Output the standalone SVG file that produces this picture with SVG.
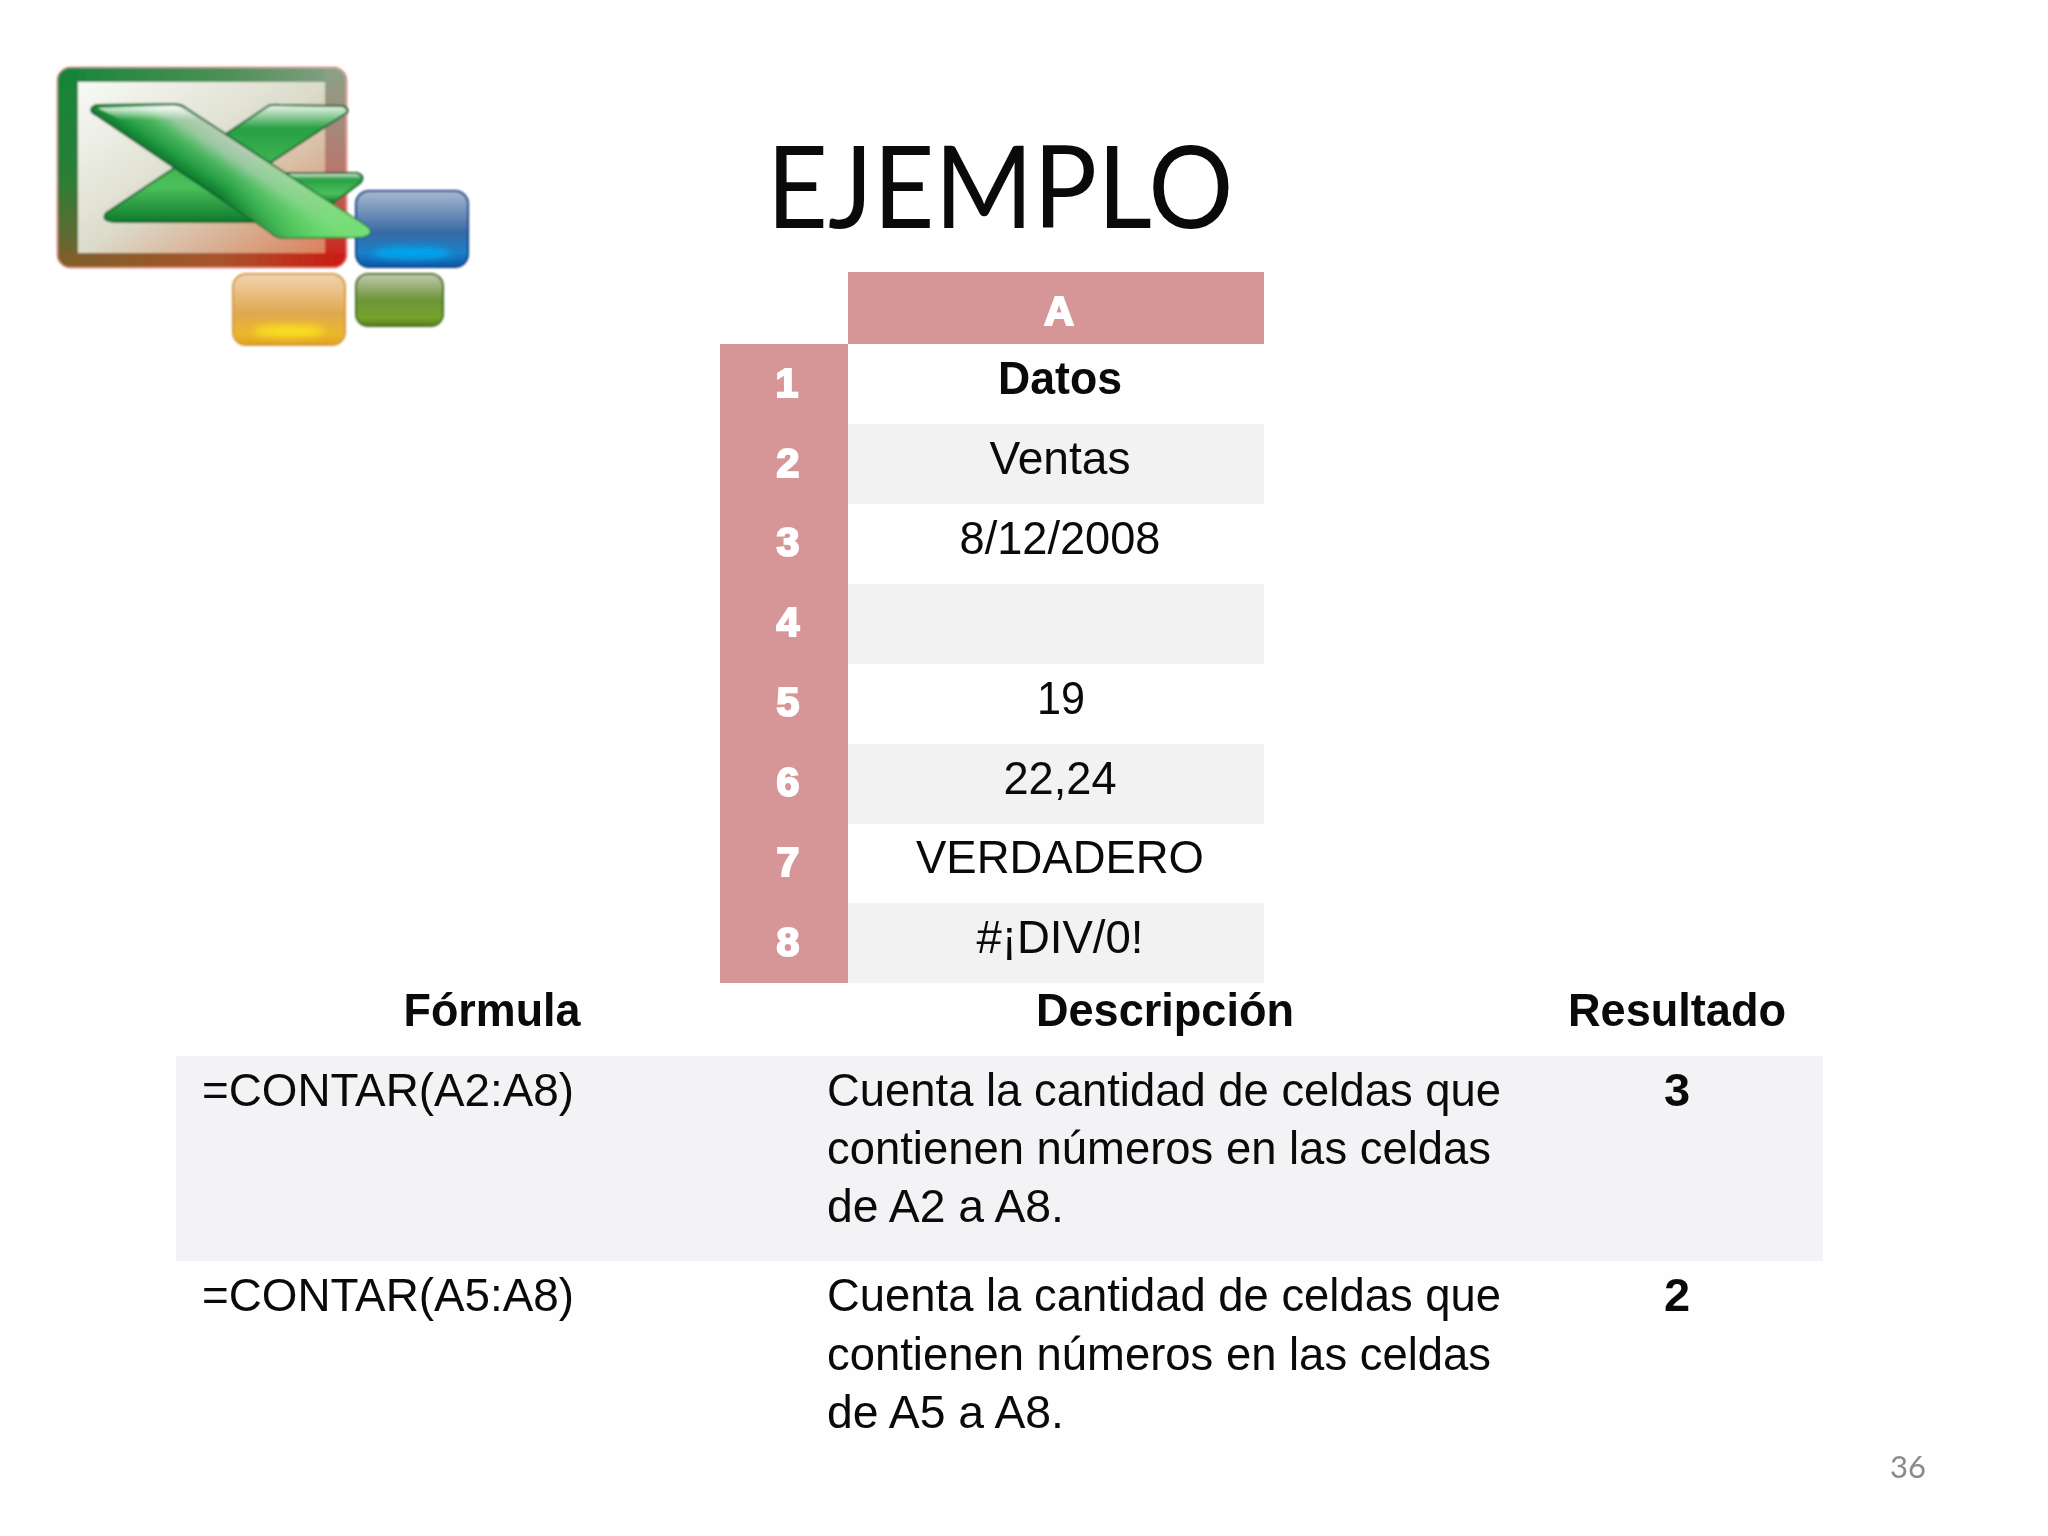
<svg xmlns="http://www.w3.org/2000/svg" width="2048" height="1536" viewBox="0 0 2048 1536">
<style>
.t{font-family:"Liberation Sans",Arial,sans-serif;font-size:47px;fill:#0a0a0a}
.b{font-weight:bold}
.m{text-anchor:middle}
.n{font-family:"Liberation Sans",Arial,sans-serif;font-size:41px;font-weight:bold;fill:#fff;stroke:#fff;stroke-width:2.2px;text-anchor:middle}
.hd{fill:#d69596}
.alt{fill:#f2f2f2}
</style>
<defs>
<clipPath id="fc"><rect x="58" y="68" width="288" height="199" rx="13"/></clipPath>
<linearGradient id="fT" x1="0" y1="0" x2="1" y2="0"><stop offset="0" stop-color="#16853a"/><stop offset=".6" stop-color="#4f9058"/><stop offset="1" stop-color="#8aa288"/></linearGradient>
<linearGradient id="fL" x1="0" y1="0" x2="0" y2="1"><stop offset="0" stop-color="#16853a"/><stop offset=".55" stop-color="#2a7f36"/><stop offset="1" stop-color="#7d5f2c"/></linearGradient>
<linearGradient id="fR" x1="0" y1="0" x2="0" y2="1"><stop offset="0" stop-color="#8aa288"/><stop offset=".5" stop-color="#b87870"/><stop offset="1" stop-color="#cc1a14"/></linearGradient>
<linearGradient id="fB" x1="0" y1="0" x2="1" y2="0"><stop offset="0" stop-color="#7d5f2c"/><stop offset=".55" stop-color="#a8552c"/><stop offset="1" stop-color="#cc1a14"/></linearGradient>
<linearGradient id="inner" x1="0" y1="0" x2="1" y2="1"><stop offset="0" stop-color="#f8faf6"/><stop offset=".5" stop-color="#dcdccc"/><stop offset=".8" stop-color="#d8a888"/><stop offset="1" stop-color="#dd7f5c"/></linearGradient>
<linearGradient id="blue" x1="0" y1="0" x2="0" y2="1"><stop offset="0" stop-color="#a8b8d0"/><stop offset=".55" stop-color="#386aa4"/><stop offset=".82" stop-color="#1a80c8"/><stop offset="1" stop-color="#0a58a8"/></linearGradient>
<linearGradient id="orange" x1="0" y1="0" x2="0" y2="1"><stop offset="0" stop-color="#f0d4b0"/><stop offset=".55" stop-color="#e0a850"/><stop offset=".85" stop-color="#eab82c"/><stop offset="1" stop-color="#e0a020"/></linearGradient>
<linearGradient id="olive" x1="0" y1="0" x2="0" y2="1"><stop offset="0" stop-color="#c0ccb0"/><stop offset=".5" stop-color="#6e9438"/><stop offset=".85" stop-color="#74a42c"/><stop offset="1" stop-color="#557d20"/></linearGradient>
<linearGradient id="xg" x1="0" y1="0" x2="0" y2="1"><stop offset="0" stop-color="#f2f7f0"/><stop offset=".2" stop-color="#28a044"/><stop offset=".7" stop-color="#4cc05c"/><stop offset="1" stop-color="#0f7a2c"/></linearGradient>
<linearGradient id="xm" gradientUnits="userSpaceOnUse" x1="181" y1="171" x2="211" y2="126"><stop offset="0" stop-color="#0f7a30"/><stop offset=".18" stop-color="#1f9a3e"/><stop offset=".5" stop-color="#50b862"/><stop offset=".72" stop-color="#98c8a0"/><stop offset="1" stop-color="#b4ceb4"/></linearGradient>
<linearGradient id="xb" gradientUnits="userSpaceOnUse" x1="230" y1="180" x2="340" y2="240"><stop offset="0" stop-color="#70e070" stop-opacity="0"/><stop offset="1" stop-color="#70e070" stop-opacity=".9"/></linearGradient>
<linearGradient id="xt" x1="0" y1="0" x2="0" y2="1"><stop offset="0" stop-color="#ffffff"/><stop offset="1" stop-color="#ffffff" stop-opacity="0"/></linearGradient>
<filter id="soft" x="-10%" y="-10%" width="120%" height="120%"><feGaussianBlur stdDeviation="0.9"/></filter>
<filter id="sh" x="-30%" y="-60%" width="160%" height="220%"><feGaussianBlur stdDeviation="3.5"/></filter>
</defs>
<rect width="2048" height="1536" fill="#fff"/>
<rect x="50" y="360" width="1950" height="1176" fill="#fefefe"/>

<g id="logo">
<rect x="58" y="68" width="288" height="199" rx="13" fill="none" stroke="#f4a0a0" stroke-width="3" filter="url(#soft)"/>
<g filter="url(#soft)">
<g clip-path="url(#fc)">
<rect x="58" y="68" width="288" height="199" fill="#6a8a50"/>
<rect x="58" y="68" width="288" height="14" fill="url(#fT)"/>
<rect x="58" y="68" width="20" height="199" fill="url(#fL)"/>
<rect x="325" y="68" width="21" height="199" fill="url(#fR)"/>
<rect x="58" y="253" width="288" height="14" fill="url(#fB)"/>
</g>
<rect x="78" y="82" width="247" height="171" fill="url(#inner)"/>
<rect x="356" y="191" width="112" height="76" rx="13" fill="url(#blue)" stroke="#0c4088" stroke-width="2"/>
<ellipse cx="412" cy="253" rx="40" ry="6" fill="#00a8f0" filter="url(#sh)"/>
<rect x="233" y="274" width="112" height="71" rx="13" fill="url(#orange)" stroke="#d89a40" stroke-width="2"/>
<ellipse cx="289" cy="331" rx="36" ry="6" fill="#fae020" filter="url(#sh)"/>
<rect x="356" y="274" width="87" height="52" rx="12" fill="url(#olive)" stroke="#4d7020" stroke-width="2"/>
<path d="M106 213L268 106Q272 104 280 105L343 106Q351 110 345 114L270 163L240 190L262 222H118Q100 222 106 213Z" fill="url(#xg)" stroke="#0c6428" stroke-width="2"/>
<path d="M287 173H357Q366 176 360 183L333 203L295 190Z" fill="url(#xg)" stroke="#0c6428" stroke-width="2"/>
<path d="M96 115Q86 110 96 105L173 104Q181 104 186 108L366 226Q376 234 362 237L285 238Q276 238 270 232Z" fill="url(#xm)" stroke="#0c6428" stroke-width="2"/>
<path d="M96 115Q86 110 96 105L173 104Q181 104 186 108L366 226Q376 234 362 237L285 238Q276 238 270 232Z" fill="url(#xb)"/>
<path d="M98 108L173 106Q180 106 185 110L200 120H122Z" fill="url(#xt)" opacity=".95"/>
</g>
</g>

<text id="title" x="1000" y="228" font-family="Lato,'Open Sans',sans-serif" font-size="115" fill="#0a0a0a" text-anchor="middle" textLength="467" lengthAdjust="spacingAndGlyphs">EJEMPLO</text>

<g id="top-table">
<rect class="hd" x="848" y="272" width="416" height="72"/>
<rect class="hd" x="720" y="344" width="128" height="639"/>
<rect class="alt" x="848" y="424" width="416" height="80"/>
<rect class="alt" x="848" y="584" width="416" height="80"/>
<rect class="alt" x="848" y="744" width="416" height="80"/>
<rect class="alt" x="848" y="903" width="416" height="80"/>
<text class="n" x="1059" y="325">A</text>
<text class="n" x="787" y="397">1</text>
<text class="n" x="788" y="477">2</text>
<text class="n" x="788" y="556">3</text>
<text class="n" x="788" y="636">4</text>
<text class="n" x="788" y="716">5</text>
<text class="n" x="788" y="796">6</text>
<text class="n" x="788" y="876">7</text>
<text class="n" x="788" y="956">8</text>
<text class="t b m" x="1060" y="394" textLength="124" lengthAdjust="spacingAndGlyphs">Datos</text>
<text class="t m" x="1060" y="474" textLength="141" lengthAdjust="spacingAndGlyphs">Ventas</text>
<text class="t m" x="1060" y="554" textLength="201" lengthAdjust="spacingAndGlyphs">8/12/2008</text>
<text class="t m" x="1061" y="714" textLength="48" lengthAdjust="spacingAndGlyphs">19</text>
<text class="t m" x="1060" y="794" textLength="113" lengthAdjust="spacingAndGlyphs">22,24</text>
<text class="t m" x="1060" y="873" textLength="288" lengthAdjust="spacingAndGlyphs">VERDADERO</text>
<text class="t m" x="1060" y="953" textLength="167" lengthAdjust="spacingAndGlyphs">#¡DIV/0!</text>
</g>

<g id="bottom-table">
<rect x="176" y="1056" width="1647" height="205" fill="#f3f2f5"/>
<text class="t b m" x="492" y="1026" textLength="177" lengthAdjust="spacingAndGlyphs">Fórmula</text>
<text class="t b m" x="1165" y="1026" textLength="258" lengthAdjust="spacingAndGlyphs">Descripción</text>
<text class="t b m" x="1677" y="1026" textLength="218" lengthAdjust="spacingAndGlyphs">Resultado</text>
<text class="t" x="202" y="1106" textLength="372" lengthAdjust="spacingAndGlyphs">=CONTAR(A2:A8)</text>
<text class="t" x="827" y="1106" textLength="674" lengthAdjust="spacingAndGlyphs">Cuenta la cantidad de celdas que</text>
<text class="t" x="827" y="1164" textLength="664" lengthAdjust="spacingAndGlyphs">contienen números en las celdas</text>
<text class="t" x="827" y="1222" textLength="237" lengthAdjust="spacingAndGlyphs">de A2 a A8.</text>
<text class="t b m" x="1677" y="1106">3</text>
<text class="t" x="202" y="1311" textLength="372" lengthAdjust="spacingAndGlyphs">=CONTAR(A5:A8)</text>
<text class="t" x="827" y="1311" textLength="674" lengthAdjust="spacingAndGlyphs">Cuenta la cantidad de celdas que</text>
<text class="t" x="827" y="1370" textLength="664" lengthAdjust="spacingAndGlyphs">contienen números en las celdas</text>
<text class="t" x="827" y="1428" textLength="237" lengthAdjust="spacingAndGlyphs">de A5 a A8.</text>
<text class="t b m" x="1677" y="1311">2</text>
</g>

<text id="page" x="1908" y="1478" font-family="Lato,'Open Sans',sans-serif" font-size="31" fill="#8a8a8a" text-anchor="middle">36</text>
</svg>
